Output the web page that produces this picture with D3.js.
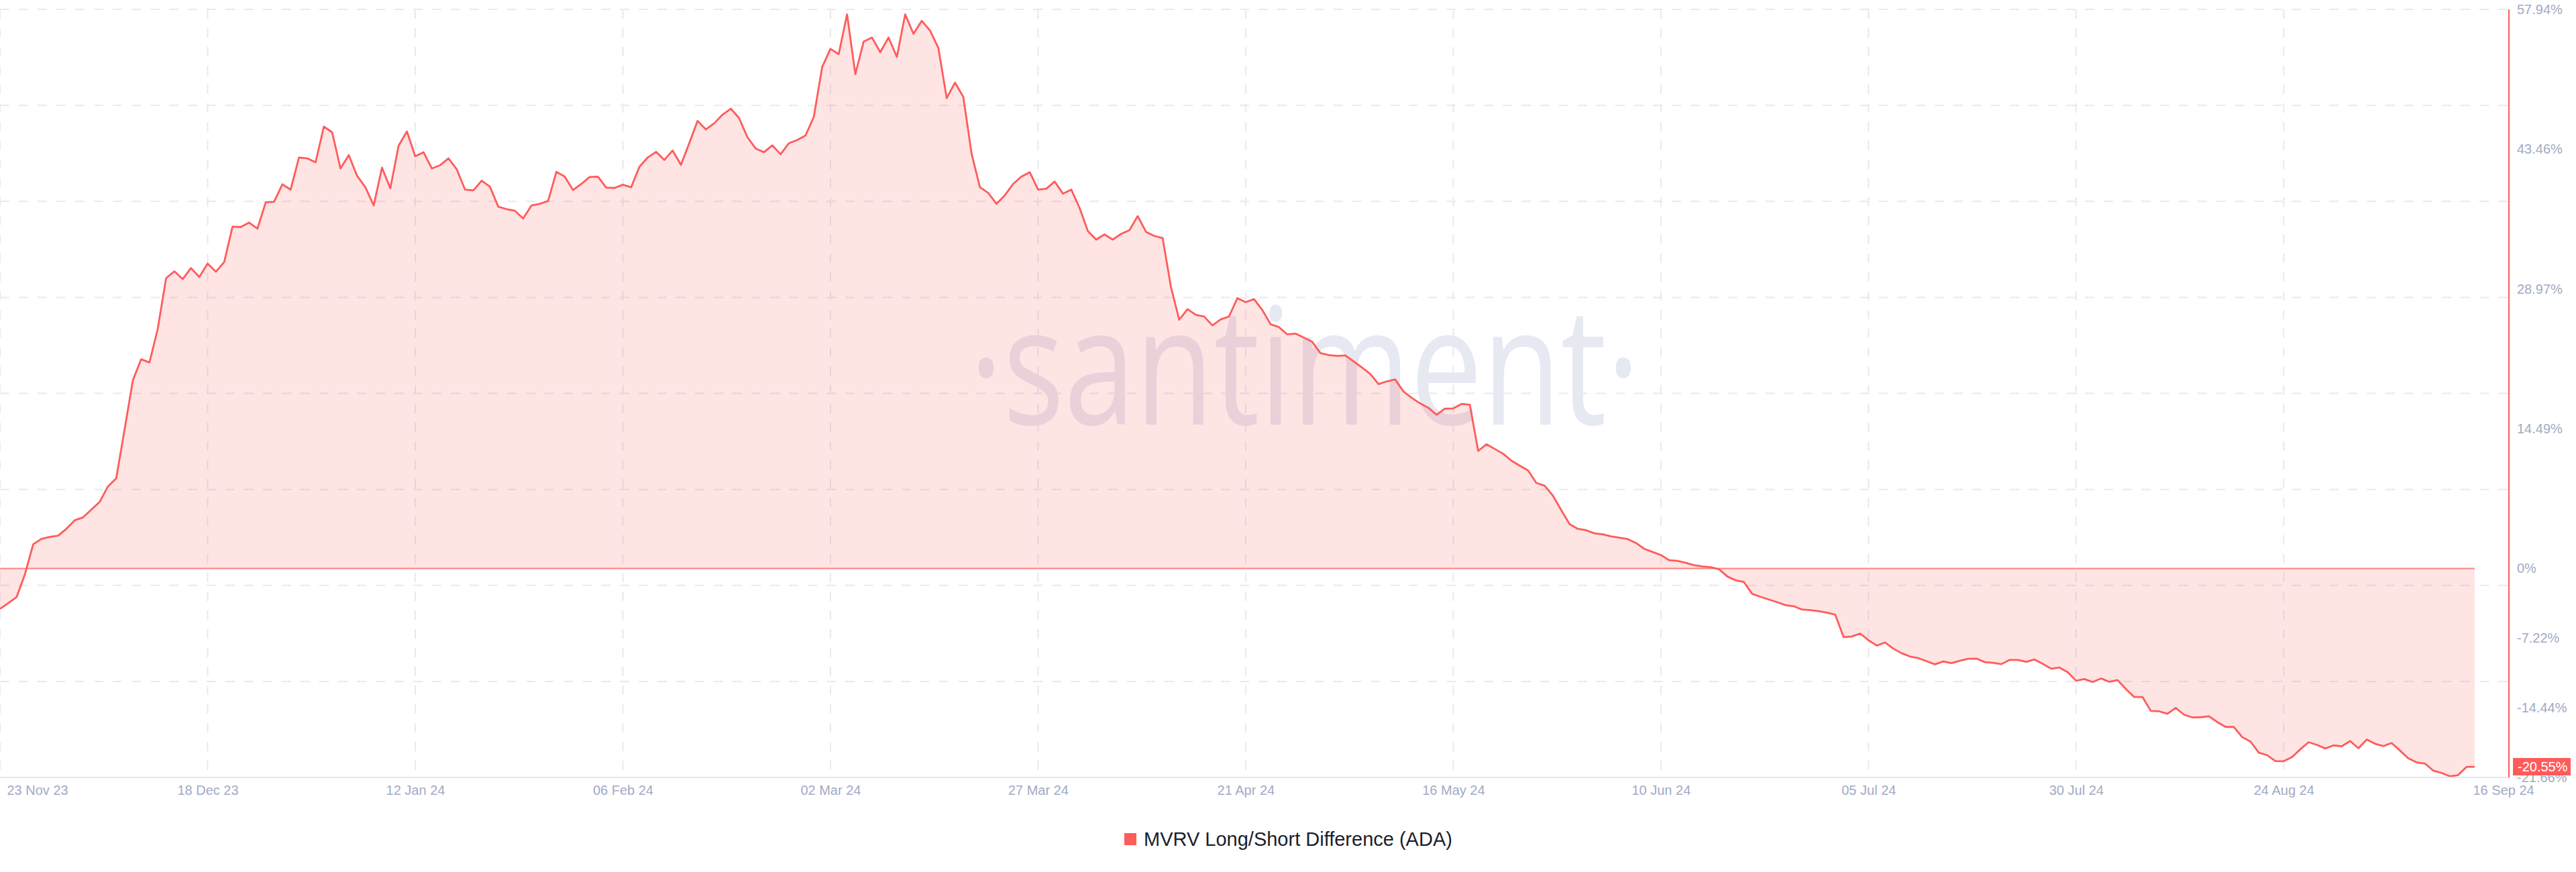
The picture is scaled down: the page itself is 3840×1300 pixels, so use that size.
<!DOCTYPE html>
<html>
<head>
<meta charset="utf-8">
<script src="https://cdn.jsdelivr.net/npm/d3@7"></script>
<style>
  html, body { margin: 0; padding: 0; background: #ffffff; }
  svg { display: block; }
</style>
</head>
<body>
<svg id="chart" width="3840" height="1300"></svg>
<script>
// ---------------- DATA ----------------
const seriesName = "MVRV Long/Short Difference (ADA)";
const startDate = "2023-11-23";   // first daily observation
const values = [
  -4.19, -3.60, -2.97, -0.61, 2.51, 3.06, 3.27, 3.39, 4.11, 4.99,
  5.29, 6.09, 6.89, 8.50, 9.34, 14.39, 19.49, 21.68, 21.35, 24.85,
  30.08, 30.79, 29.99, 31.13, 30.20, 31.59, 30.75, 31.76, 35.42, 35.38,
  35.85, 35.21, 37.95, 38.00, 39.81, 39.26, 42.59, 42.50, 42.09, 45.79,
  45.20, 41.45, 42.84, 40.69, 39.51, 37.62, 41.54, 39.39, 43.81, 45.29,
  42.72, 43.14, 41.45, 41.79, 42.50, 41.37, 39.26, 39.18, 40.19, 39.56,
  37.49, 37.24, 37.07, 36.27, 37.62, 37.79, 38.08, 41.11, 40.61, 39.22,
  39.85, 40.57, 40.61, 39.47, 39.43, 39.77, 39.51, 41.62, 42.59, 43.18,
  42.34, 43.31, 41.83, 44.07, 46.38, 45.50, 46.13, 47.02, 47.65, 46.68,
  44.70, 43.52, 43.14, 43.85, 42.93, 44.07, 44.40, 44.87, 46.81, 51.95,
  53.85, 53.30, 57.43, 51.23, 54.60, 55.02, 53.51, 55.02, 53.00, 57.43,
  55.40, 56.75, 55.74, 53.93, 48.74, 50.35, 48.87, 42.97, 39.51, 38.92,
  37.79, 38.67, 39.85, 40.61, 41.07, 39.26, 39.35, 40.10, 38.84, 39.26,
  37.36, 34.97, 34.08, 34.62, 34.08, 34.67, 35.05, 36.52, 34.88, 34.46,
  34.25, 29.19, 25.77, 26.87, 26.28, 26.11, 25.19, 25.81, 26.11, 28.01,
  27.59, 27.92, 26.79, 25.31, 25.01, 24.26, 24.34, 23.92, 23.50, 22.32,
  22.11, 22.02, 22.07, 21.46, 20.83, 20.17, 19.10, 19.39, 19.59, 18.34,
  17.68, 17.11, 16.65, 15.92, 16.56, 16.59, 17.05, 16.96, 12.18, 12.87,
  12.38, 11.89, 11.17, 10.65, 10.16, 8.86, 8.57, 7.54, 6.04, 4.60,
  4.10, 3.96, 3.64, 3.53, 3.32, 3.18, 3.04, 2.64, 2.03, 1.71,
  1.39, 0.85, 0.79, 0.58, 0.33, 0.21, 0.12, -0.08, -0.83, -1.23,
  -1.41, -2.64, -2.94, -3.22, -3.50, -3.80, -3.92, -4.26, -4.33, -4.43,
  -4.59, -4.80, -7.12, -7.05, -6.75, -7.44, -8.00, -7.67, -8.32, -8.79,
  -9.13, -9.30, -9.62, -9.94, -9.64, -9.81, -9.57, -9.36, -9.34, -9.71,
  -9.78, -9.92, -9.48, -9.48, -9.67, -9.44, -9.90, -10.39, -10.27, -10.76,
  -11.64, -11.47, -11.77, -11.40, -11.75, -11.57, -12.50, -13.33, -13.33, -14.77,
  -14.81, -15.07, -14.46, -15.16, -15.44, -15.42, -15.32, -15.92, -16.43, -16.43,
  -17.48, -17.94, -19.10, -19.35, -19.96, -19.98, -19.56, -18.75, -18.01, -18.29,
  -18.66, -18.34, -18.43, -17.89, -18.64, -17.73, -18.17, -18.41, -18.10, -18.87,
  -19.68, -20.10, -20.22, -20.95, -21.19, -21.54, -21.42, -20.58, -20.55
];
const xTickDates = [
  "2023-11-23", "2023-12-18", "2024-01-12", "2024-02-06", "2024-03-02",
  "2024-03-27", "2024-04-21", "2024-05-16", "2024-06-10", "2024-07-05",
  "2024-07-30", "2024-08-24", "2024-09-16"
];
const yTickValues = [57.94, 43.46, 28.97, 14.49, 0, -7.22, -14.44, -21.66];
const yDomain = [-21.66, 57.94];
const gridCount = 9;   // evenly spaced horizontal grid lines

// ---------------- SETUP ----------------
const W = 3840, H = 1300;
const plot = { left: 0, right: 3689, axisX: 3740, top: 14, bottom: 1159 };
const RED = "#ff5b5b";
const LABEL = "#a1aac4";
const GRID = "#e7e9f3";
const FONT = "'Liberation Sans', Arial, sans-serif";

const parse = d3.utcParse("%Y-%m-%d");
const start = parse(startDate);
const data = values.map((v, i) => ({ date: d3.utcDay.offset(start, i), value: v }));
const tickDates = xTickDates.map(parse);

const x = d3.scaleUtc()
  .domain([data[0].date, data[data.length - 1].date])
  .range([plot.left, plot.right]);
const y = d3.scaleLinear().domain(yDomain).range([plot.bottom, plot.top]);

const svg = d3.select("#chart");
svg.append("rect").attr("width", W).attr("height", H).attr("fill", "#ffffff");

// ---------------- GRID ----------------
const gridVals = d3.range(gridCount).map(i => yDomain[0] + i * (yDomain[1] - yDomain[0]) / (gridCount - 1));
const grid = svg.append("g").attr("class", "grid");
grid.selectAll("line.h").data(gridVals).join("line")
  .attr("class", "h")
  .attr("x1", plot.left).attr("x2", plot.axisX)
  .attr("y1", d => y(d)).attr("y2", d => y(d))
  .attr("stroke", GRID).attr("stroke-width", 2)
  .attr("stroke-dasharray", "14,14");
grid.selectAll("line.v").data(tickDates.slice(0, -1)).join("line")
  .attr("class", "v")
  .attr("x1", d => x(d)).attr("x2", d => x(d))
  .attr("y1", plot.top).attr("y2", plot.bottom)
  .attr("stroke", GRID).attr("stroke-width", 2)
  .attr("stroke-dasharray", "14,14");

// ---------------- WATERMARK ----------------
svg.append("text")
  .attr("x", 1445).attr("y", 633)
  .attr("textLength", 1000).attr("lengthAdjust", "spacingAndGlyphs")
  .attr("font-family", "'Open Sans', sans-serif")
  .attr("font-size", 243)
  .attr("font-weight", 500)
  .attr("fill", "#e6e8f2")
  .text("\u00B7santiment\u00B7");

// ---------------- AREA + LINE ----------------
const area = d3.area()
  .x(d => x(d.date))
  .y0(y(0))
  .y1(d => y(d.value));
svg.append("path").datum(data)
  .attr("d", area)
  .attr("fill", RED).attr("fill-opacity", 0.165);

svg.append("line")
  .attr("x1", x(data[0].date)).attr("x2", x(data[data.length - 1].date))
  .attr("y1", y(0)).attr("y2", y(0))
  .attr("stroke", RED).attr("stroke-opacity", 0.75).attr("stroke-width", 2);

const line = d3.line().x(d => x(d.date)).y(d => y(d.value));
svg.append("path").datum(data)
  .attr("d", line)
  .attr("fill", "none")
  .attr("stroke", RED).attr("stroke-width", 2.8)
  .attr("stroke-linejoin", "round");

// ---------------- AXES ----------------
// bottom axis line
svg.append("line")
  .attr("x1", plot.left).attr("x2", plot.axisX)
  .attr("y1", plot.bottom).attr("y2", plot.bottom)
  .attr("stroke", "#e3e6f0").attr("stroke-width", 2);

// x axis labels
const fmt = d3.utcFormat("%d %b %y");
const xAxis = d3.axisBottom(x).tickValues(tickDates).tickFormat(fmt).tickSize(0).tickPadding(12);
const gx = svg.append("g").attr("transform", `translate(0,${plot.bottom})`).call(xAxis);
gx.select(".domain").remove();
gx.selectAll("text")
  .attr("font-family", FONT).attr("font-size", 20).attr("fill", LABEL)
  .each(function(d, i) {
    if (i === 0) d3.select(this).attr("text-anchor", "start").attr("dx", 10);
    if (i === tickDates.length - 1) d3.select(this).attr("text-anchor", "start").attr("dx", -3);
  });

// right axis line
svg.append("line")
  .attr("x1", plot.axisX).attr("x2", plot.axisX)
  .attr("y1", plot.top).attr("y2", plot.bottom)
  .attr("stroke", RED).attr("stroke-width", 2);

// y labels
const yAxis = d3.axisRight(y).tickValues(yTickValues)
  .tickFormat(d => (d === 0 ? "0" : d.toFixed(2)) + "%")
  .tickSize(0).tickPadding(12);
const gy = svg.append("g").attr("transform", `translate(${plot.axisX},0)`).call(yAxis);
gy.select(".domain").remove();
gy.selectAll("text").attr("font-family", FONT).attr("font-size", 20).attr("fill", LABEL);

// last value badge
const last = data[data.length - 1];
const badge = svg.append("g").attr("transform", `translate(${plot.axisX + 6},${y(last.value)})`);
badge.append("rect").attr("x", 0).attr("y", -13).attr("width", 86).attr("height", 26).attr("fill", RED);
badge.append("text").attr("x", 7).attr("y", 0).attr("dy", "0.35em")
  .attr("font-family", FONT).attr("font-size", 20).attr("fill", "#ffffff")
  .text(last.value.toFixed(2) + "%");

// ---------------- LEGEND ----------------
const legend = svg.append("g").attr("transform", "translate(1676,1251)");
legend.append("rect").attr("x", 0).attr("y", -9).attr("width", 18).attr("height", 18).attr("fill", RED);
legend.append("text").attr("x", 29).attr("y", 0).attr("dy", "0.36em")
  .attr("font-family", FONT).attr("font-size", 29).attr("fill", "#1b1e2c")
  .text(seriesName);
</script>
</body>
</html>
